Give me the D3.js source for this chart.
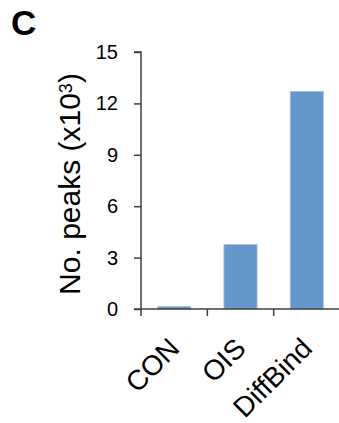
<!DOCTYPE html>
<html>
<head>
<meta charset="utf-8">
<script src="https://cdn.jsdelivr.net/npm/d3@7"></script>
<style>
  body { margin: 0; background: #fff; }
  text { font-family: "Liberation Sans", Arial, sans-serif; fill: #000; }
</style>
</head>
<body>
<svg id="chart"></svg>
<script>
var categories = ["CON", "OIS", "DiffBind"];
var peaks = [0.15, 3.77, 12.7];
var yTicks = [0, 3, 6, 9, 12, 15];

var width = 339, height = 423;
var margin = {top: 52, left: 141, bottom: 114, right: 0};

var svg = d3.select("#chart")
    .attr("width", width)
    .attr("height", height);

var x = d3.scaleBand()
    .domain(categories)
    .range([margin.left, width + 1])
    .paddingInner(0.5)
    .paddingOuter(0.25);

var y = d3.scaleLinear()
    .domain([0, 15])
    .range([height - margin.bottom, margin.top]);

// bars
svg.selectAll(".bar")
    .data(categories)
  .enter().append("rect")
    .attr("class", "bar")
    .attr("x", function(d) { return x(d); })
    .attr("width", x.bandwidth())
    .attr("y", function(d, i) { return y(peaks[i]); })
    .attr("height", function(d, i) { return y(0) - y(peaks[i]); })
    .attr("fill", "#6497cb")
    .attr("stroke", "#a9c5e3")
    .attr("stroke-width", 0.8);

// y axis
var yAxis = d3.axisLeft(y).tickValues(yTicks).tickSize(7).tickPadding(16);
var gy = svg.append("g")
    .attr("transform", "translate(" + margin.left + ",0)")
    .call(yAxis);
gy.select(".domain").attr("stroke", "#404040").attr("stroke-width", 1.5)
    .attr("d", "M-7," + y(15) + "H0V" + y(0));
gy.selectAll(".tick line").attr("stroke", "#404040").attr("stroke-width", 1.5);
gy.selectAll(".tick text")
    .style("font-size", "20px")
    .style("font-family", "'Liberation Sans', Arial, sans-serif");

// x axis: ticks at category boundaries
var step = x.step();
var bounds = d3.range(categories.length + 1).map(function(i) { return margin.left + i * step; });
var gx = svg.append("g");
gx.append("line")
    .attr("x1", margin.left - 7).attr("x2", width)
    .attr("y1", y(0)).attr("y2", y(0))
    .attr("stroke", "#404040").attr("stroke-width", 1.5);
gx.selectAll(".xtick")
    .data(bounds)
  .enter().append("line")
    .attr("x1", function(d) { return d; }).attr("x2", function(d) { return d; })
    .attr("y1", y(0)).attr("y2", y(0) + 7)
    .attr("stroke", "#404040").attr("stroke-width", 1.5);

gx.selectAll(".xlabel")
    .data(categories)
  .enter().append("text")
    .attr("transform", function(d) {
      return "translate(" + (x(d) + x.bandwidth() / 2 + 7) + "," + (y(0) + 41) + ") rotate(-45)";
    })
    .attr("text-anchor", "end")
    .style("font-size", "28px")
    .text(function(d) { return d; });

// y label
var lab = svg.append("text")
    .attr("transform", "translate(80," + 184 + ") rotate(-90)")
    .attr("text-anchor", "middle")
    .style("font-size", "30px");
lab.append("tspan").text("No. peaks (x10");
lab.append("tspan").attr("dy", "-0.45em").style("font-size", "18px").text("3");
lab.append("tspan").attr("dy", "0.27em").text(")");

// panel letter
svg.append("text")
    .attr("x", 11).attr("y", 35)
    .style("font-size", "35px")
    .style("font-weight", "bold")
    .text("C");
</script>
</body>
</html>
